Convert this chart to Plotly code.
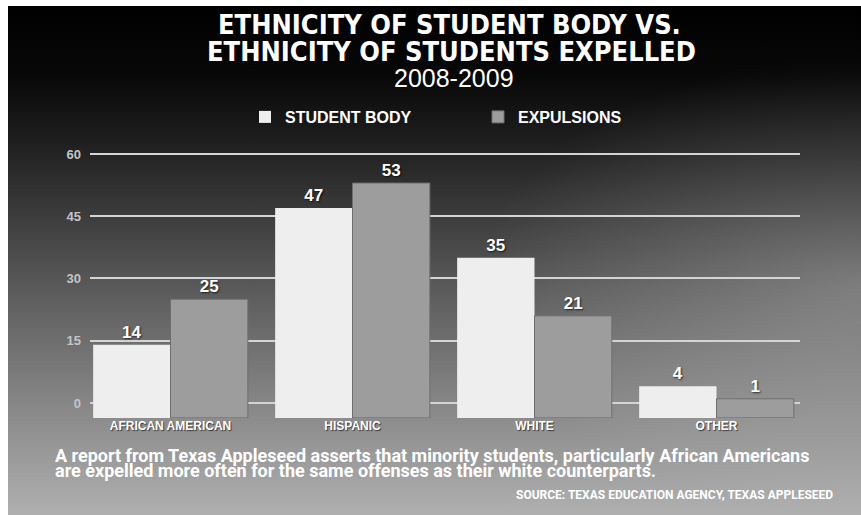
import base64
import plotly.graph_objects as go

# ---------------- data ----------------
categories = ["AFRICAN AMERICAN", "HISPANIC", "WHITE", "OTHER"]
student_body = [14, 47, 35, 4]
expulsions = [25, 53, 21, 1]
y_ticks = [0, 15, 30, 45, 60]

title_line1 = "ETHNICITY OF STUDENT BODY VS."
title_line2 = "ETHNICITY OF STUDENTS EXPELLED"
subtitle = "2008-2009"
note_line1 = "A report from Texas Appleseed asserts that minority students, particularly African Americans"
note_line2 = "are expelled more often for the same offenses as their white counterparts."
source = "SOURCE: TEXAS EDUCATION AGENCY, TEXAS APPLESEED"

# ---------------- layout helpers ----------------
W, H = 861, 515
FLOOR = 3.6  # bars sit on a "floor" slightly below the zero line (3D look)


def px_x(x):
    return x / W


def px_y(y):
    return 1 - y / H


svg = """<svg xmlns="http://www.w3.org/2000/svg" width="853" height="509" viewBox="0 0 853 509" preserveAspectRatio="none">
<defs>
<linearGradient id="g" x1="0" y1="0" x2="0" y2="1">
<stop offset="0" stop-color="#000000"/>
<stop offset="0.14" stop-color="#080808"/>
<stop offset="0.3" stop-color="#252525"/>
<stop offset="0.55" stop-color="#595959"/>
<stop offset="0.8" stop-color="#8a8a8a"/>
<stop offset="1" stop-color="#b0b0b0"/>
</linearGradient>
<radialGradient id="r" cx="1" cy="0.55" r="0.45">
<stop offset="0" stop-color="#ffffff" stop-opacity="0.22"/>
<stop offset="1" stop-color="#ffffff" stop-opacity="0"/>
</radialGradient>
</defs>
<rect width="853" height="509" fill="url(#g)"/>
<rect width="853" height="509" fill="url(#r)"/>
</svg>"""
bg_uri = "data:image/svg+xml;base64," + base64.b64encode(svg.encode()).decode()

label_font = dict(family="Liberation Sans", size=17, color="white", weight="bold",
                  shadow="1px 1px 2px rgba(0,0,0,0.7)")
title_font = dict(family="DejaVu Sans Condensed", size=27, color="white", weight="bold")
note_font = dict(family="Roboto", size=18, color="white", weight="bold")

fig = go.Figure()
fig.add_trace(go.Bar(
    name="STUDENT BODY", x=categories,
    y=[v + FLOOR for v in student_body], base=-FLOOR,
    text=[str(v) for v in student_body], textposition="outside",
    textfont=label_font, cliponaxis=False,
    marker=dict(color="#eeeeee", line=dict(width=0)),
))
fig.add_trace(go.Bar(
    name="EXPULSIONS", x=categories,
    y=[v + FLOOR for v in expulsions], base=-FLOOR,
    text=[str(v) for v in expulsions], textposition="outside",
    textfont=label_font, cliponaxis=False,
    marker=dict(color="#9d9d9d", line=dict(width=1, color="#6e6e6e")),
))

x0, x1 = 90, 800
c0, step = 170.5, 182
y_bottom, y_top = 417.9, 145.7

fig.update_layout(
    width=W, height=H,
    margin=dict(l=0, r=0, t=0, b=0),
    paper_bgcolor="white",
    plot_bgcolor="rgba(0,0,0,0)",
    barmode="group", bargap=0.15, bargroupgap=0,
    showlegend=True,
    legend=dict(orientation="h", x=px_x(245), y=px_y(117), xanchor="left", yanchor="middle",
                font=dict(family="Liberation Sans", size=16, color="white", weight="bold"),
                bgcolor="rgba(0,0,0,0)", entrywidth=188, entrywidthmode="pixels",
                traceorder="normal"),
    xaxis=dict(domain=[px_x(x0), px_x(x1)],
               range=[(x0 - c0) / step, (x1 - c0) / step],
               showgrid=False, zeroline=False, showline=False, ticks="",
               automargin=False, ticklabelstandoff=-1,
               tickfont=dict(family="Liberation Sans", size=12, color="white", weight="bold",
                             shadow="1px 1px 1px rgba(0,0,0,0.6)")),
    yaxis=dict(domain=[px_y(y_bottom), px_y(y_top)],
               range=[-FLOOR, 62], tickvals=y_ticks,
               showgrid=True, gridcolor="#d4d4d4", gridwidth=2,
               zeroline=False, showline=False, ticks="", automargin=False,
               ticklabelstandoff=8,
               tickfont=dict(family="Liberation Sans", size=13, color="#c4c4c4", weight="bold")),
    images=[dict(source=bg_uri, xref="paper", yref="paper",
                 x=px_x(8), y=px_y(6), sizex=(W - 8) / W, sizey=(H - 6) / H,
                 xanchor="left", yanchor="top", sizing="stretch", layer="below")],
    annotations=[
        dict(text=title_line1, x=px_x(449), y=px_y(25), xref="paper", yref="paper",
             showarrow=False, xanchor="center", yanchor="middle", font=title_font),
        dict(text=title_line2, x=px_x(451), y=px_y(51), xref="paper", yref="paper",
             showarrow=False, xanchor="center", yanchor="middle", font=title_font),
        dict(text=subtitle, x=px_x(454), y=px_y(78), xref="paper", yref="paper",
             showarrow=False, xanchor="center", yanchor="middle",
             font=dict(family="Liberation Sans", size=25, color="white")),
        dict(text=note_line1, x=px_x(53), y=px_y(455), xref="paper", yref="paper",
             showarrow=False, xanchor="left", yanchor="middle", font=note_font),
        dict(text=note_line2, x=px_x(53), y=px_y(470), xref="paper", yref="paper",
             showarrow=False, xanchor="left", yanchor="middle", font=note_font),
        dict(text=source, x=px_x(835), y=px_y(495), xref="paper", yref="paper",
             showarrow=False, xanchor="right", yanchor="middle",
             font=dict(family="Roboto", size=12, color="white", weight="bold")),
    ],
)

fig.write_html("out.html")
